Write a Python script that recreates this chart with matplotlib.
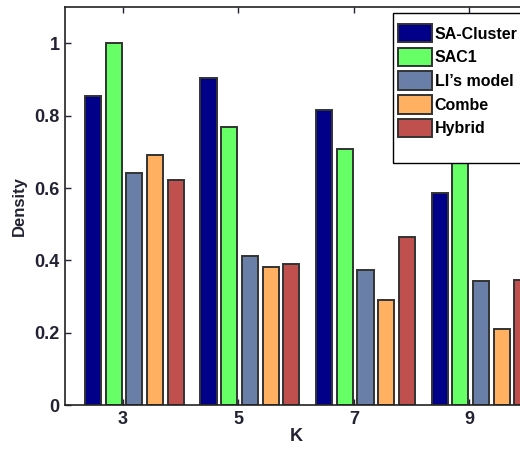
import matplotlib
matplotlib.use('Agg')

import matplotlib.pyplot as plt
import matplotlib.patches as mpatches
import numpy as np

# Datos
k_values = [3, 5, 7, 9]
series_names = ['SA-Cluster', 'SAC1', 'LI\u2019s model', 'Combe', 'Hybrid']
sa_cluster = [0.854, 0.903, 0.817, 0.586]
sac1 = [1.0, 0.769, 0.708, 0.80]
li_model = [0.642, 0.411, 0.374, 0.343]
combe = [0.690, 0.381, 0.291, 0.210]
hybrid = [0.621, 0.390, 0.465, 0.346]

COLORS = ['#000088', '#66FF66', '#6A7FA8', '#FFB060', '#C0504D']

plt.rcParams['font.family'] = ['Liberation Sans', 'DejaVu Sans']
plt.rcParams['font.weight'] = 'bold'

fig = plt.figure(figsize=(5.2, 4.5), dpi=100)
ax = fig.add_axes([0.125, 0.1, 0.889, 0.884])

series = [sa_cluster, sac1, li_model, combe, hybrid]
pitch = 0.358
width = 0.28
x = np.array(k_values, dtype=float)
handles = []
for i, (vals, col) in enumerate(zip(series, COLORS)):
    off = (i - 2) * pitch + 0.2
    b = ax.bar(x + off, vals, width=width, color=col, edgecolor='#333333',
               linewidth=1.4, zorder=2)
    handles.append(b)

ax.set_xlim(2, 10)
ax.set_ylim(0, 1.1)
ax.set_xticks(k_values)
ax.set_yticks([0, 0.2, 0.4, 0.6, 0.8, 1.0])
ax.set_yticklabels(['0', '0.2', '0.4', '0.6', '0.8', '1'])
ax.tick_params(direction='in', top=True, right=True, length=4, width=1,
               labelsize=13, colors='#222233', pad=4)
for lbl in ax.get_xticklabels() + ax.get_yticklabels():
    lbl.set_fontweight('bold')
for sp in ax.spines.values():
    sp.set_linewidth(1.2)
    sp.set_color('#222222')

ax.set_xlabel('K', fontsize=13, fontweight='bold', color='#222233', labelpad=0)
ax.set_ylabel('Density', fontsize=12, fontweight='bold', color='#222233', labelpad=5)

# Marco de la leyenda (estilo matlab, con espacio libre abajo)
frame = mpatches.Rectangle((393 / 520, 1 - 163 / 450), 0.3, 150 / 450,
                           transform=fig.transFigure, facecolor='white',
                           edgecolor='black', linewidth=1.0, zorder=4)
fig.patches.append(frame)

leg = fig.legend(handles, series_names,
                 loc='upper left', bbox_to_anchor=(398 / 520, 1 - 24 / 450),
                 handlelength=2.1, handleheight=1.4,
                 handletextpad=0.2, labelspacing=0.33, borderpad=0,
                 borderaxespad=0, frameon=False,
                 prop={'weight': 'bold', 'size': 11.5})
for h in leg.legend_handles:
    h.set_edgecolor('#333333')
    h.set_linewidth(1.4)

plt.savefig('out.png', dpi=100)
plt.close(fig)
